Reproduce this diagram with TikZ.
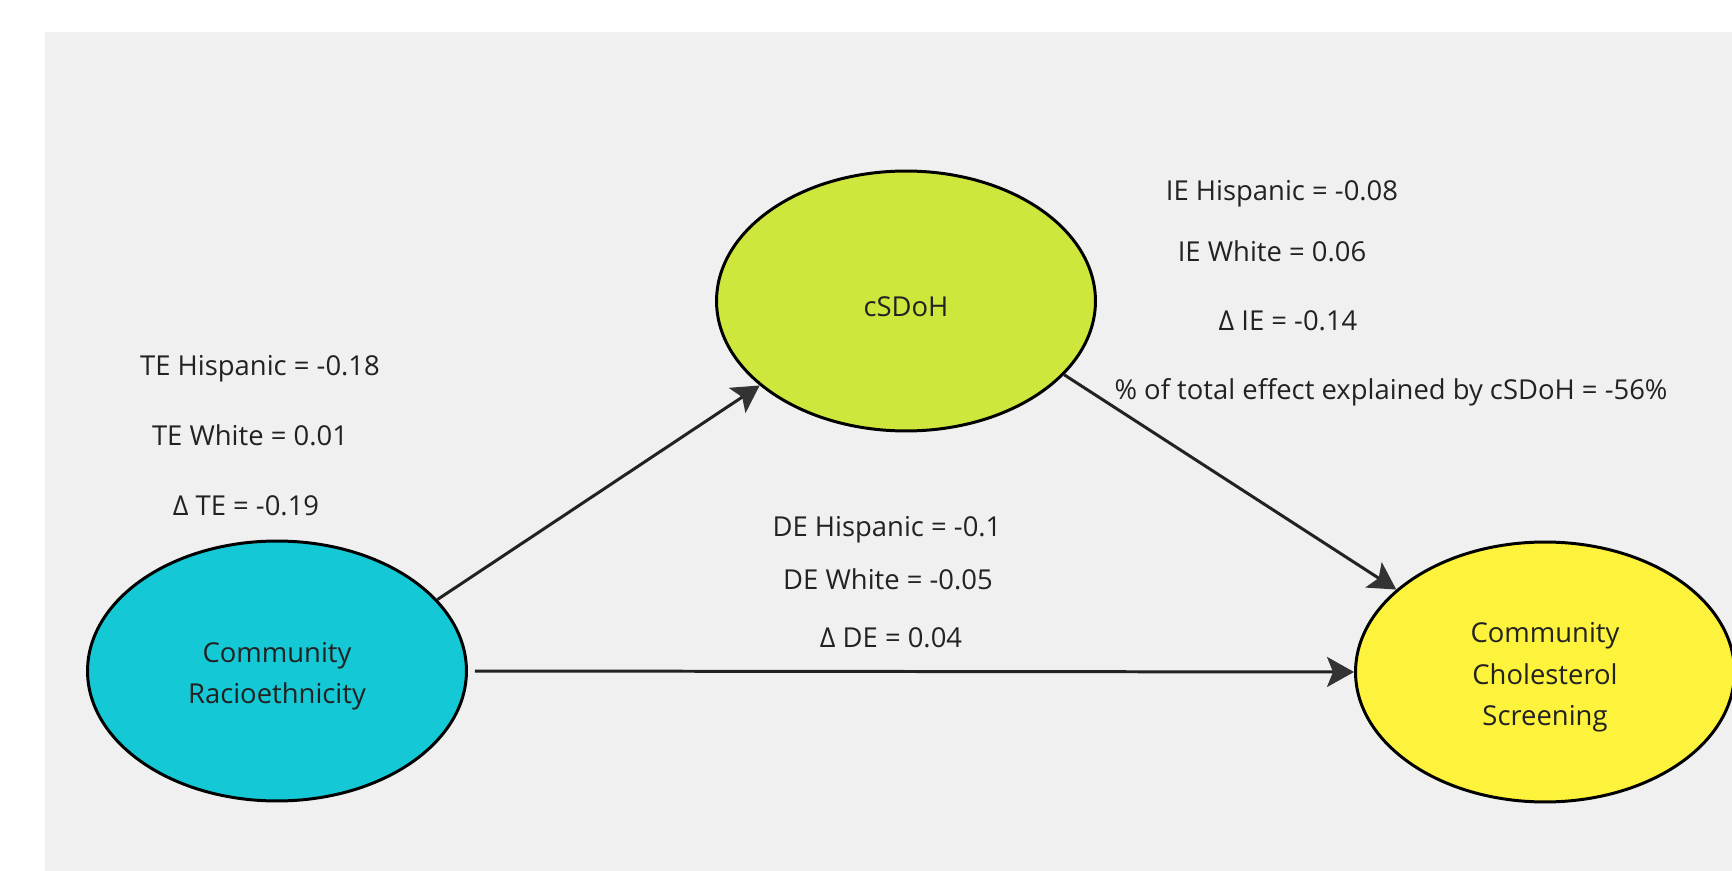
\documentclass[tikz,border=0pt]{standalone}
\usepackage{fontspec}
\setmainfont{Open Sans}
\usetikzlibrary{shapes.geometric,arrows.meta}
\definecolor{bggray}{HTML}{F0F0F0}
\definecolor{teal1}{HTML}{14C9D5}
\definecolor{lime1}{HTML}{CFE63C}
\definecolor{yel1}{HTML}{FDF23C}
\definecolor{ink}{HTML}{222222}
\definecolor{tipgray}{HTML}{333333}
\newcommand{\topstrut}{\rule{0pt}{17.5pt}}
\tikzset{
  oval/.style={ellipse, draw=black, line width=1.7pt, minimum width=7.58cm, minimum height=5.2cm,
    align=center, text=ink, font=\fontsize{15.6}{23.5}\selectfont, inner sep=0pt},
  lbl/.style={anchor=base, text=ink, font=\fontsize{15.6}{18}\selectfont, inner sep=0pt},
  conn/.style={draw=ink, line width=1.7pt,
    -{Stealth[length=0.54cm, width=0.6cm, inset=0.12cm, fill=tipgray, color=tipgray]}}
}
\begin{document}
\begin{tikzpicture}[x=0.02cm, y=-0.02cm]
\useasboundingbox (0,0) rectangle (1732,871);
\clip (0,0) rectangle (1732,871);
\fill[white] (0,0) rectangle (1732,871);
\fill[bggray] (45,32) rectangle (1732,871);

\node[oval, fill=teal1] (race) at (277,671) {\topstrut Community\\Racioethnicity};
\node[oval, fill=lime1] (sdoh) at (906,301) {\topstrut cSDoH};
\node[oval, fill=yel1] (chol) at (1545,672) {\topstrut Community\\Cholesterol\\Screening};

\draw[conn] (race.24) -- (sdoh.210.5);
\draw[conn, shorten <=4pt] (race.east) -- (chol.west);
\draw[conn] (sdoh.335.5) -- (chol.151.5);

\node[lbl] (te1) at (260,376) {TE Hispanic = -0.18};
\node[lbl] (te2) at (250,446) {TE White = 0.01};
\node[lbl] (te3) at (246,516) {Δ TE = -0.19};

\node[lbl] (ie1) at (1282,201) {IE Hispanic = -0.08};
\node[lbl] (ie2) at (1272,262) {IE White = 0.06};
\node[lbl] (ie3) at (1288,331) {Δ IE = -0.14};
\node[lbl] (ie4) at (1391,400) {\% of total effect explained by cSDoH = -56\%};

\node[lbl] (de1) at (887,537) {DE Hispanic = -0.1};
\node[lbl] (de2) at (888,589) {DE White = -0.05};
\node[lbl] (de3) at (891,647) {Δ DE = 0.04};
\end{tikzpicture}
\end{document}
